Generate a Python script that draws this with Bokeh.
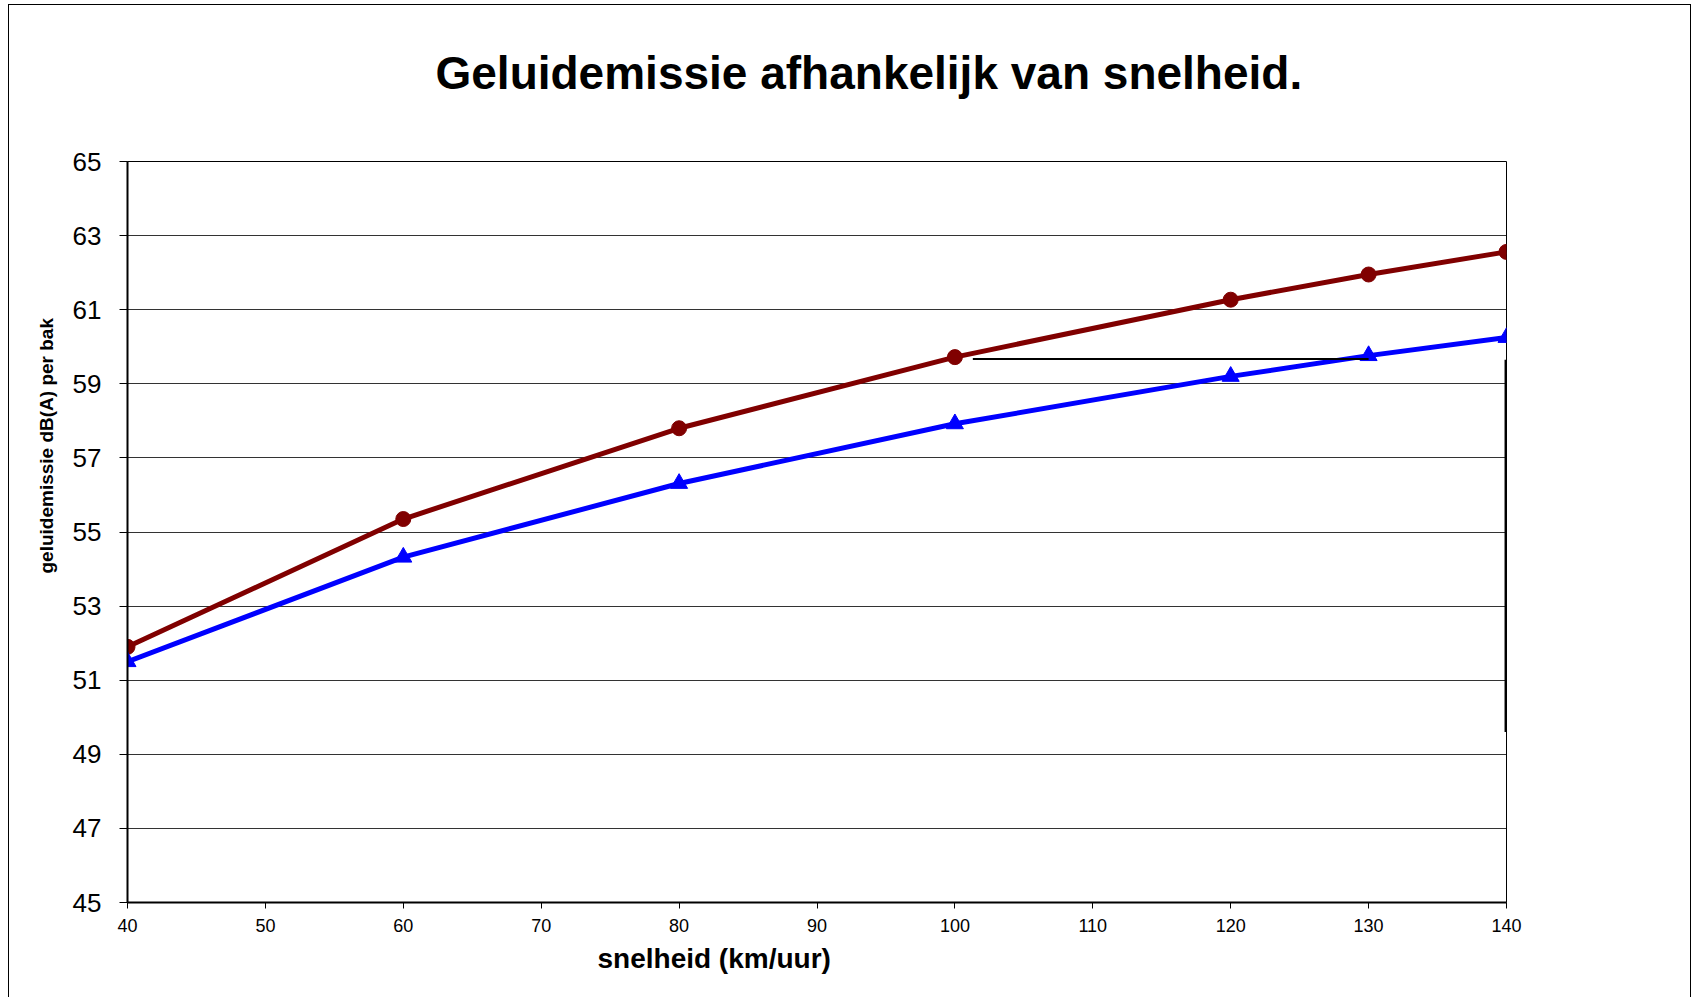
from bokeh.plotting import figure
from bokeh.models import Range1d, FixedTicker, Title
from bokeh.embed import file_html
from bokeh.resources import INLINE

# ---- data ----
speed = [40, 60, 80, 100, 120, 130, 140]
series_red = [51.9, 55.35, 57.8, 59.72, 61.27, 61.95, 62.56]
series_blue = [51.5, 54.32, 56.31, 57.92, 59.2, 59.76, 60.25]
x_ticks = [40, 50, 60, 70, 80, 90, 100, 110, 120, 130, 140]
y_ticks = [45, 47, 49, 51, 53, 55, 57, 59, 61, 63, 65]
# stray drawn lines in the original picture
hline_x = [101.3, 130.0]
hline_y = [59.67, 59.67]
vline_x = [139.93, 139.93]
vline_y = [49.6, 59.65]

title_text = "Geluidemissie afhankelijk van snelheid."
x_title = "snelheid (km/uur)"
y_title = "geluidemissie dB(A) per bak"

FONT = "Liberation Sans"

p = figure(width=1683, height=993, output_backend="svg", toolbar_location=None,
           x_range=Range1d(40, 140), y_range=Range1d(45, 65),
           min_border_left=118, min_border_right=186, min_border_top=156,
           min_border_bottom=96, background_fill_color="white",
           border_fill_color="white")
p.styles = {"margin-left": "8px", "margin-top": "4px",
            "border-left": "1px solid black", "border-top": "1px solid black",
            "border-right": "1px solid black"}

p.outline_line_color = "black"
p.outline_line_width = 1

# grid
p.xgrid.visible = False
p.ygrid.ticker = FixedTicker(ticks=y_ticks)
p.ygrid.grid_line_color = "black"
p.ygrid.grid_line_alpha = 0.8
p.ygrid.grid_line_width = 1

# axes
p.xaxis.ticker = FixedTicker(ticks=x_ticks)
p.yaxis.ticker = FixedTicker(ticks=y_ticks)
for ax in (p.xaxis[0], p.yaxis[0]):
    ax.axis_line_color = "black"
    ax.axis_line_width = 2
    ax.major_tick_line_color = "black"
    ax.major_tick_line_width = 1
    ax.major_tick_in = 0
    ax.minor_tick_line_color = None
    ax.major_label_text_font = FONT
    ax.major_label_text_color = "black"
p.yaxis.major_tick_out = 8
p.yaxis.major_label_text_font_size = "26px"
p.yaxis.major_label_standoff = 18
p.xaxis.major_tick_out = 6
p.xaxis.major_label_text_font_size = "18px"
p.xaxis.major_label_standoff = 10

# lines + markers
p.line(speed, series_red, line_color="#800000", line_width=5)
p.scatter(speed, series_red, marker="circle", size=15, fill_color="#800000",
          line_color="#800000")
p.line(speed, series_blue, line_color="#0000FF", line_width=5)
p.scatter(speed, series_blue, marker="triangle", size=17, fill_color="#0000FF",
          line_color="#0000FF")

p.line(hline_x, hline_y, line_color="black", line_width=2)
p.line(vline_x, vline_y, line_color="black", line_width=2)

# titles (a blank spacer title keeps the main title higher above the frame)
spacer = Title(text=" ", standoff=40, text_font=FONT, text_font_size="10px")
p.add_layout(spacer, "above")
t_main = Title(text=title_text, align="left", offset=308, standoff=20,
               text_font=FONT, text_font_size="46px", text_font_style="bold",
               text_color="black")
p.add_layout(t_main, "above")

t_x = Title(text=x_title, align="left", offset=470, standoff=12,
            text_font=FONT, text_font_size="28px", text_font_style="bold",
            text_color="black")
p.add_layout(t_x, "below")

t_y = Title(text=y_title, align="left", offset=329, standoff=26,
            text_font=FONT, text_font_size="19px", text_font_style="bold",
            text_color="black")
p.add_layout(t_y, "left")

open("out.html", "w").write(file_html(p, INLINE))
